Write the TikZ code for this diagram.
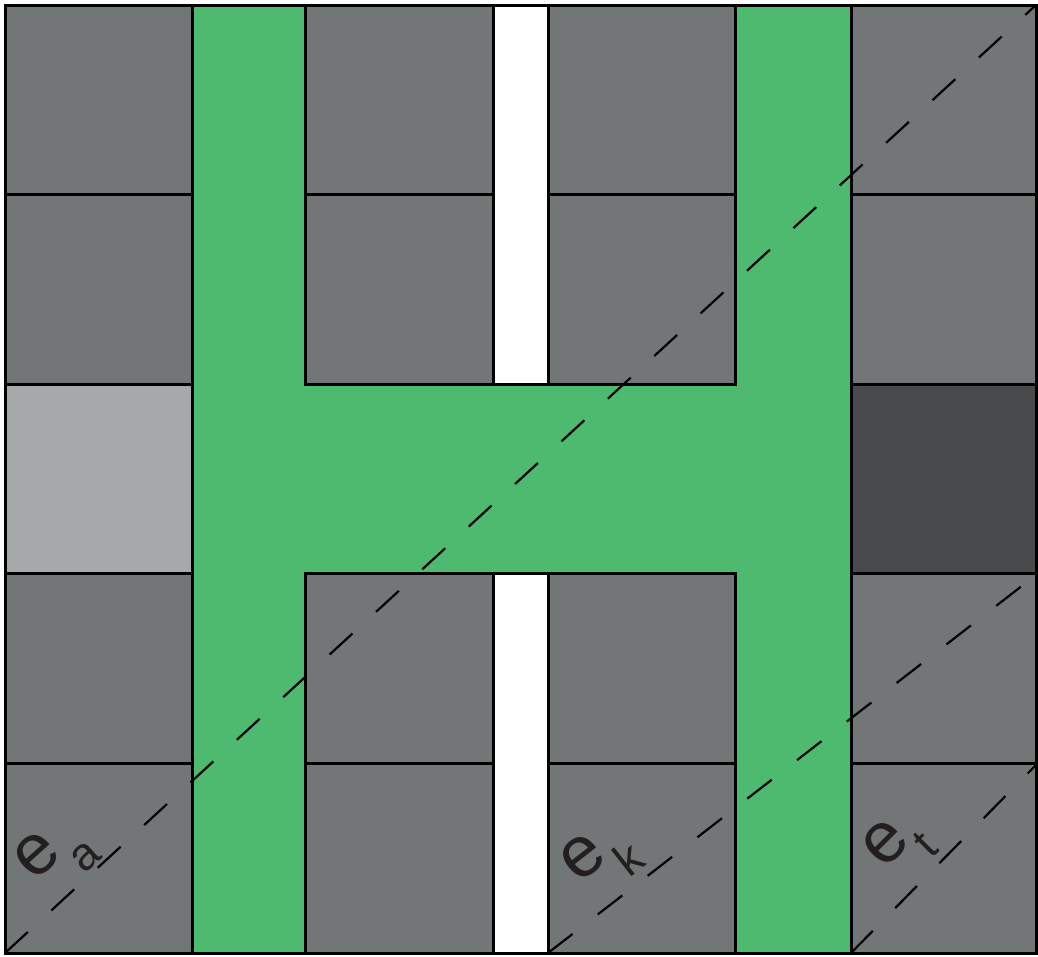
\documentclass[tikz,border=0pt]{standalone}
\usepackage{fontspec}
\setmainfont{Liberation Sans}
\definecolor{hgreen}{HTML}{4EBA6F}
\definecolor{cellgray}{HTML}{727677}
\definecolor{lightcell}{HTML}{A6A9AA}
\definecolor{darkcell}{HTML}{494A4C}
\definecolor{ink}{HTML}{231F20}

\begin{document}
\begin{tikzpicture}[x=1pt,y=-1pt,
      cell/.style={draw=black,line width=3pt,fill=cellgray},
      slot/.style={draw=black,line width=3pt,fill=white},
      cut/.style={line width=2.2pt,dash pattern=on 31pt off 32pt},
      lbl/.style={inner sep=0pt,text=ink,font=\fontsize{72}{72}\selectfont},
      sub/.style={inner sep=0pt,text=ink,font=\fontsize{46}{46}\selectfont}]
    \useasboundingbox (0,0) rectangle (1038,956);
    % green H
    \fill[hgreen] (192,5) rectangle (305.5,953);
    \fill[hgreen] (735,5) rectangle (851,953);
    \fill[hgreen] (305.5,384.2) rectangle (735,573.8);
    % white slots
    \draw[slot] (493,5) rectangle (548,384.2);
    \draw[slot] (493,573.8) rectangle (548,953);
    % gray cells
    \foreach \xa/\xb in {5/192,305.5/493,548/735,851/1036}
      \foreach \ya/\yb in {5/194.6,194.6/384.2,573.8/763.4,763.4/953}
        \draw[cell] (\xa,\ya) rectangle (\xb,\yb);
    \draw[cell,fill=lightcell] (5,384.2) rectangle (192,573.8);
    \draw[cell,fill=darkcell] (851,384.2) rectangle (1036,573.8);
    % frame
    \draw[line width=3pt] (5,5) rectangle (1036,953);
    % cut lines
    \coordinate (a0) at (5,953);   \coordinate (a1) at (1036,5);
    \coordinate (k0) at (548,953); \coordinate (k1) at (1036,575);
    \coordinate (t0) at (851,953); \coordinate (t1) at (1036,765);
    \draw[cut] (a0) -- (a1);
    \draw[cut] (k0) -- (k1);
    \draw[cut] (t0) -- (t1);
    % labels
    \node[lbl,rotate=42] (ea) at (37,855) {e};
    \node[sub,rotate=42] (sa) at (86,857) {a};
    \node[lbl,rotate=38] (ek) at (583,857) {e};
    \node[sub,rotate=38] (sk) at (628,858) {k};
    \node[lbl,rotate=45] (et) at (885,843) {e};
    \node[sub,rotate=45] (st) at (926,845) {t};
  \end{tikzpicture}
\end{document}
